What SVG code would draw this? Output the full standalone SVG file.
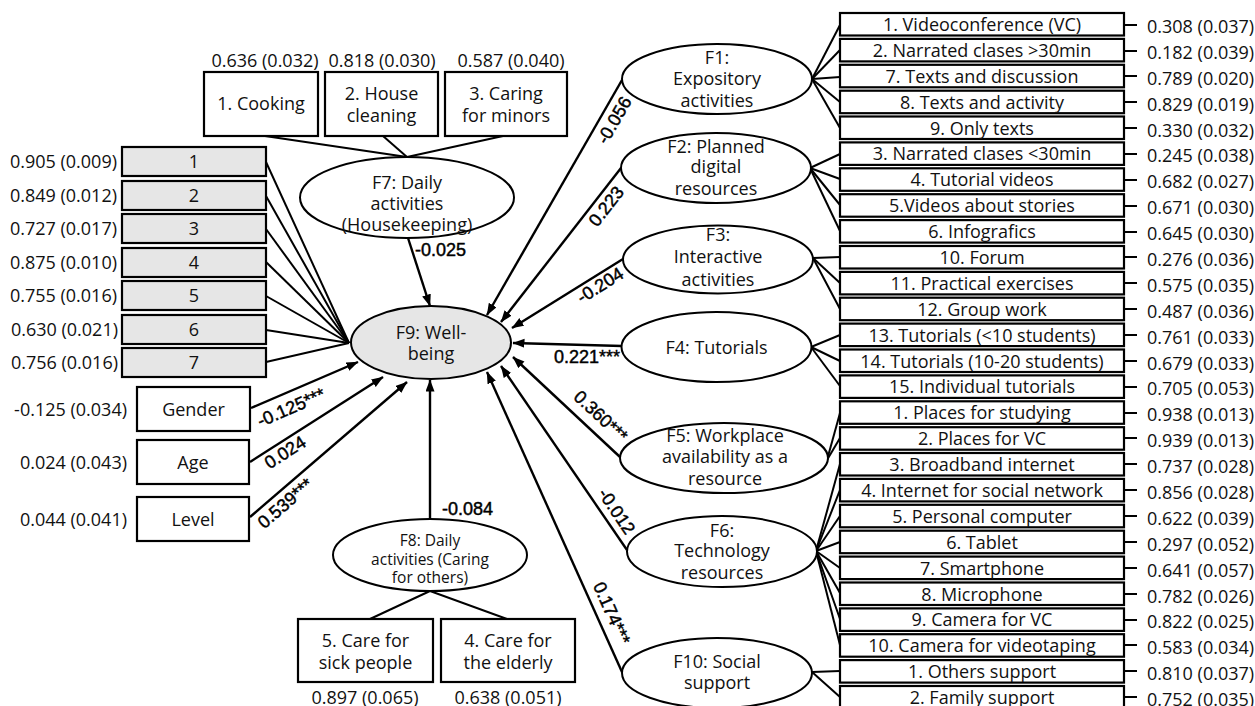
<svg xmlns="http://www.w3.org/2000/svg" width="1255" height="706" viewBox="0 0 1255 706">
<defs>
<marker id="ah" markerUnits="userSpaceOnUse" markerWidth="13" markerHeight="10" refX="11.5" refY="4.5" orient="auto">
<path d="M0,0 L12,4.5 L0,9 z" fill="#000"/>
</marker>
<style>
.t{font-family:"Open Sans","Noto Sans",sans-serif;font-size:18px;fill:#111}
.s{font-family:"Open Sans","Noto Sans",sans-serif;font-size:15.5px;fill:#111}
.m{text-anchor:middle}
.e{text-anchor:end}
.lb{font-family:"Liberation Sans",Arial,sans-serif;font-size:18px;fill:#000;stroke:#000;stroke-width:0.45}
.box{fill:#fff;stroke:#000;stroke-width:2.2}
.gbox{fill:#e6e6e6;stroke:#000;stroke-width:2.2}
.ell{fill:#fff;stroke:#000;stroke-width:2}
.gell{fill:#e6e6e6;stroke:#000;stroke-width:2}
.ln{stroke:#000;stroke-width:2;fill:none}
.ar{stroke:#000;stroke-width:2.4;fill:none;marker-end:url(#ah)}
</style>
</defs>
<rect x="0" y="0" width="1255" height="706" fill="#fff"/>

<g id="connectors">
<!-- F7 indicators -->
<line class="ln" x1="265" y1="136" x2="407" y2="157"/>
<line class="ln" x1="383" y1="136" x2="407" y2="157"/>
<line class="ln" x1="503" y1="136" x2="407" y2="157"/>
<!-- F8 indicators -->
<line class="ln" x1="430" y1="591" x2="370" y2="619"/>
<line class="ln" x1="430" y1="591" x2="507" y2="619"/>
<!-- F9 indicators -->
<line class="ln" x1="266" y1="162" x2="349" y2="343"/>
<line class="ln" x1="266" y1="196" x2="349" y2="343"/>
<line class="ln" x1="266" y1="229" x2="349" y2="343"/>
<line class="ln" x1="266" y1="262" x2="349" y2="343"/>
<line class="ln" x1="266" y1="296" x2="349" y2="343"/>
<line class="ln" x1="266" y1="330" x2="349" y2="343"/>
<line class="ln" x1="266" y1="362" x2="349" y2="343"/>
<!-- F1 indicators -->
<line class="ln" x1="812" y1="79" x2="840" y2="25"/>
<line class="ln" x1="812" y1="79" x2="840" y2="50"/>
<line class="ln" x1="812" y1="79" x2="840" y2="77"/>
<line class="ln" x1="812" y1="79" x2="840" y2="102"/>
<line class="ln" x1="812" y1="79" x2="840" y2="128"/>
<!-- F2 indicators -->
<line class="ln" x1="810" y1="168" x2="840" y2="154"/>
<line class="ln" x1="810" y1="168" x2="840" y2="179"/>
<line class="ln" x1="810" y1="168" x2="840" y2="205"/>
<line class="ln" x1="810" y1="168" x2="840" y2="231"/>
<!-- F3 indicators -->
<line class="ln" x1="813" y1="258" x2="840" y2="257"/>
<line class="ln" x1="813" y1="258" x2="840" y2="283"/>
<line class="ln" x1="813" y1="258" x2="840" y2="309"/>
<!-- F4 indicators -->
<line class="ln" x1="811" y1="347" x2="840" y2="335"/>
<line class="ln" x1="811" y1="347" x2="840" y2="361"/>
<line class="ln" x1="811" y1="347" x2="840" y2="386"/>
<!-- F5 indicators -->
<line class="ln" x1="827" y1="460" x2="840" y2="413"/>
<line class="ln" x1="827" y1="460" x2="840" y2="438"/>
<!-- F6 indicators -->
<line class="ln" x1="816" y1="551" x2="840" y2="464"/>
<line class="ln" x1="816" y1="551" x2="840" y2="490"/>
<line class="ln" x1="816" y1="551" x2="840" y2="516"/>
<line class="ln" x1="816" y1="551" x2="840" y2="542"/>
<line class="ln" x1="816" y1="551" x2="840" y2="568"/>
<line class="ln" x1="816" y1="551" x2="840" y2="593"/>
<line class="ln" x1="816" y1="551" x2="840" y2="619"/>
<line class="ln" x1="816" y1="551" x2="840" y2="645"/>
<!-- F10 indicators -->
<line class="ln" x1="812" y1="672" x2="840" y2="671"/>
<line class="ln" x1="812" y1="672" x2="840" y2="697"/>
<!-- structural paths -->
<line class="ar" x1="622" y1="80" x2="487" y2="315"/>
<line class="ar" x1="621" y1="168" x2="501" y2="322"/>
<line class="ar" x1="623" y1="259" x2="512" y2="328"/>
<line class="ar" x1="622" y1="346" x2="513" y2="343"/>
<line class="ar" x1="620" y1="457" x2="513" y2="357"/>
<line class="ar" x1="627" y1="550" x2="501" y2="366"/>
<line class="ar" x1="622" y1="672" x2="487" y2="372"/>
<line class="ar" x1="251" y1="408" x2="358" y2="362"/>
<line class="ar" x1="250" y1="462" x2="383" y2="377"/>
<line class="ar" x1="250" y1="517" x2="407" y2="382"/>
<line class="ar" x1="408" y1="238" x2="430" y2="306"/>
<line class="ar" x1="430" y1="519" x2="430" y2="380"/>
<!-- right-side ticks -->
<g class="ln">
<line x1="1124" y1="25" x2="1137" y2="25"/>
<line x1="1124" y1="51" x2="1137" y2="51"/>
<line x1="1124" y1="76" x2="1137" y2="76"/>
<line x1="1124" y1="102" x2="1137" y2="102"/>
<line x1="1124" y1="128" x2="1137" y2="128"/>
<line x1="1124" y1="154" x2="1137" y2="154"/>
<line x1="1124" y1="180" x2="1137" y2="180"/>
<line x1="1124" y1="206" x2="1137" y2="206"/>
<line x1="1124" y1="232" x2="1137" y2="232"/>
<line x1="1124" y1="257" x2="1137" y2="257"/>
<line x1="1124" y1="283" x2="1137" y2="283"/>
<line x1="1124" y1="309" x2="1137" y2="309"/>
<line x1="1124" y1="335" x2="1137" y2="335"/>
<line x1="1124" y1="361" x2="1137" y2="361"/>
<line x1="1124" y1="387" x2="1137" y2="387"/>
<line x1="1124" y1="413" x2="1137" y2="413"/>
<line x1="1124" y1="438" x2="1137" y2="438"/>
<line x1="1124" y1="464" x2="1137" y2="464"/>
<line x1="1124" y1="490" x2="1137" y2="490"/>
<line x1="1124" y1="516" x2="1137" y2="516"/>
<line x1="1124" y1="542" x2="1137" y2="542"/>
<line x1="1124" y1="568" x2="1137" y2="568"/>
<line x1="1124" y1="594" x2="1137" y2="594"/>
<line x1="1124" y1="620" x2="1137" y2="620"/>
<line x1="1124" y1="645" x2="1137" y2="645"/>
<line x1="1124" y1="671" x2="1137" y2="671"/>
<line x1="1124" y1="697" x2="1137" y2="697"/>
</g>
<!-- path labels -->
<text class="lb" transform="translate(291,407) rotate(-23.5)" text-anchor="middle" dy="0.36em">-0.125***</text>
<text class="lb" transform="translate(285,452) rotate(-32.6)" text-anchor="middle" dy="0.36em">0.024</text>
<text class="lb" transform="translate(285,503) rotate(-40.7)" text-anchor="middle" dy="0.36em">0.539***</text>
<text class="lb" transform="translate(614,120) rotate(-60)" text-anchor="middle" dy="0.36em">-0.056</text>
<text class="lb" transform="translate(606,206) rotate(-52)" text-anchor="middle" dy="0.36em">0.223</text>
<text class="lb" transform="translate(600,285) rotate(-32)" text-anchor="middle" dy="0.36em">-0.204</text>
<text class="lb" x="620" y="363" text-anchor="end">0.221***</text>
<text class="lb" transform="translate(601,416) rotate(43)" text-anchor="middle" dy="0.36em">0.360***</text>
<text class="lb" transform="translate(617,511) rotate(56)" text-anchor="middle" dy="0.36em">-0.012</text>
<text class="lb" transform="translate(612,613) rotate(66)" text-anchor="middle" dy="0.36em">0.174***</text>
<text class="lb" x="415" y="256">-0.025</text>
<text class="lb" x="442" y="515">-0.084</text>
</g>

<g id="F9">
<ellipse class="gell" cx="431" cy="342.5" rx="80" ry="36.5"/>
<text class="t m" x="431" y="338.5">F9: Well-</text>
<text class="t m" x="431" y="360">being</text>
</g>

<g id="F7">
<ellipse class="ell" cx="407" cy="197.5" rx="107" ry="40.5"/>
<text class="t m" x="407" y="189">F7: Daily</text>
<text class="t m" x="407" y="210">activities</text>
<text class="t m" x="407" y="231">(Housekeeping)</text>
</g>

<g id="F8">
<ellipse class="ell" cx="430" cy="555" rx="97" ry="36"/>
<text class="s m" x="430" y="545.5">F8: Daily</text>
<text class="s m" x="430" y="564.5">activities (Caring</text>
<text class="s m" x="430" y="583">for others)</text>
</g>

<g id="F1">
<ellipse class="ell" cx="717" cy="79" rx="95" ry="35"/>
<text class="t m" x="717" y="63.5">F1:</text>
<text class="t m" x="717" y="85">Expository</text>
<text class="t m" x="717" y="106.5">activities</text>
</g>
<g id="F2">
<ellipse class="ell" cx="716" cy="168" rx="95" ry="35"/>
<text class="t m" x="716" y="152.5">F2: Planned</text>
<text class="t m" x="716" y="173">digital</text>
<text class="t m" x="716" y="195">resources</text>
</g>
<g id="F3">
<ellipse class="ell" cx="718" cy="259.5" rx="95" ry="34"/>
<text class="t m" x="718" y="240.5">F3:</text>
<text class="t m" x="718" y="263">Interactive</text>
<text class="t m" x="718" y="285.5">activities</text>
</g>
<g id="F4">
<ellipse class="ell" cx="716.5" cy="347" rx="95" ry="35"/>
<text class="t m" x="716.5" y="353.5">F4: Tutorials</text>
</g>
<g id="F5">
<ellipse class="ell" cx="724" cy="458" rx="104" ry="35"/>
<text class="t m" x="725" y="441.5">F5: Workplace</text>
<text class="t m" x="725" y="462.5">availability as a</text>
<text class="t m" x="725" y="484.5">resource</text>
</g>
<g id="F6">
<ellipse class="ell" cx="722" cy="551.5" rx="95" ry="35.5"/>
<text class="t m" x="722" y="536.5">F6:</text>
<text class="t m" x="722" y="557">Technology</text>
<text class="t m" x="722" y="579">resources</text>
</g>
<g id="F10">
<ellipse class="ell" cx="717" cy="673" rx="95" ry="35"/>
<text class="t m" x="717" y="668">F10: Social</text>
<text class="t m" x="717" y="689">support</text>
</g>

<!-- top housekeeping indicators -->
<g id="cooking">
<rect class="box" x="204" y="72" width="114" height="64"/>
<text class="t m" x="261" y="110">1. Cooking</text>
<text class="t m" x="265" y="66.5">0.636 (0.032)</text>
</g>
<g id="housecleaning">
<rect class="box" x="325" y="72" width="113" height="64"/>
<text class="t m" x="381.5" y="99.5">2. House</text>
<text class="t m" x="381.5" y="121.5">cleaning</text>
<text class="t m" x="382" y="66.5">0.818 (0.030)</text>
</g>
<g id="caringminors">
<rect class="box" x="445" y="72" width="122" height="64"/>
<text class="t m" x="506" y="99.5">3. Caring</text>
<text class="t m" x="506" y="121.5">for minors</text>
<text class="t m" x="511" y="66.5">0.587 (0.040)</text>
</g>

<!-- care indicators -->
<g id="caresick">
<rect class="box" x="298" y="619" width="135" height="63"/>
<text class="t m" x="365.5" y="646.5">5. Care for</text>
<text class="t m" x="365.5" y="668.5">sick people</text>
<text class="t m" x="365" y="704">0.897 (0.065)</text>
</g>
<g id="careelderly">
<rect class="box" x="441" y="619" width="134" height="63"/>
<text class="t m" x="508" y="646.5">4. Care for</text>
<text class="t m" x="508" y="668.5">the elderly</text>
<text class="t m" x="508" y="704">0.638 (0.051)</text>
</g>

<!-- well-being items -->
<g id="wb1"><rect class="gbox" x="122" y="147" width="144" height="29"/><text class="t m" x="194" y="168">1</text><text class="t e" x="117" y="168">0.905 (0.009)</text></g>
<g id="wb2"><rect class="gbox" x="122" y="181" width="144" height="29"/><text class="t m" x="194" y="202">2</text><text class="t e" x="117" y="202">0.849 (0.012)</text></g>
<g id="wb3"><rect class="gbox" x="122" y="214" width="144" height="29"/><text class="t m" x="194" y="235">3</text><text class="t e" x="117" y="235">0.727 (0.017)</text></g>
<g id="wb4"><rect class="gbox" x="122" y="248" width="144" height="29"/><text class="t m" x="194" y="269">4</text><text class="t e" x="117" y="269">0.875 (0.010)</text></g>
<g id="wb5"><rect class="gbox" x="122" y="281" width="144" height="29"/><text class="t m" x="194" y="302">5</text><text class="t e" x="117" y="302">0.755 (0.016)</text></g>
<g id="wb6"><rect class="gbox" x="122" y="315" width="144" height="29"/><text class="t m" x="194" y="336">6</text><text class="t e" x="118" y="336">0.630 (0.021)</text></g>
<g id="wb7"><rect class="gbox" x="122" y="348" width="144" height="29"/><text class="t m" x="194" y="369">7</text><text class="t e" x="118" y="369">0.756 (0.016)</text></g>

<!-- covariates -->
<g id="gender"><rect class="box" x="137" y="387" width="113" height="44"/><text class="t m" x="193.5" y="415.5">Gender</text><text class="t e" x="127" y="415.5">-0.125 (0.034)</text></g>
<g id="age"><rect class="box" x="137" y="440" width="112" height="44"/><text class="t m" x="193" y="468.5">Age</text><text class="t e" x="127" y="468.5">0.024 (0.043)</text></g>
<g id="level"><rect class="box" x="137" y="497" width="112" height="44"/><text class="t m" x="193" y="525.5">Level</text><text class="t e" x="127" y="525.5">0.044 (0.041)</text></g>

<!-- right indicators -->
<g id="r1"><rect class="box" x="840" y="13" width="284" height="22.5"/><text class="t m" x="982" y="31">1. Videoconference (VC)</text><text class="t" x="1147" y="33">0.308 (0.037)</text></g>
<g id="r2"><rect class="box" x="840" y="38.9" width="284" height="22.5"/><text class="t m" x="982" y="56.9">2. Narrated clases &gt;30min</text><text class="t" x="1147" y="58.9">0.182 (0.039)</text></g>
<g id="r3"><rect class="box" x="840" y="64.8" width="284" height="22.5"/><text class="t m" x="982" y="82.8">7. Texts and discussion</text><text class="t" x="1147" y="84.8">0.789 (0.020)</text></g>
<g id="r4"><rect class="box" x="840" y="90.7" width="284" height="22.5"/><text class="t m" x="982" y="108.7">8. Texts and activity</text><text class="t" x="1147" y="110.7">0.829 (0.019)</text></g>
<g id="r5"><rect class="box" x="840" y="116.5" width="284" height="22.5"/><text class="t m" x="982" y="134.5">9. Only texts</text><text class="t" x="1147" y="136.5">0.330 (0.032)</text></g>
<g id="r6"><rect class="box" x="840" y="142.4" width="284" height="22.5"/><text class="t m" x="982" y="160.4">3. Narrated clases &lt;30min</text><text class="t" x="1147" y="162.4">0.245 (0.038)</text></g>
<g id="r7"><rect class="box" x="840" y="168.3" width="284" height="22.5"/><text class="t m" x="982" y="186.3">4. Tutorial videos</text><text class="t" x="1147" y="188.3">0.682 (0.027)</text></g>
<g id="r8"><rect class="box" x="840" y="194.2" width="284" height="22.5"/><text class="t m" x="982" y="212.2">5.Videos about stories</text><text class="t" x="1147" y="214.2">0.671 (0.030)</text></g>
<g id="r9"><rect class="box" x="840" y="220.1" width="284" height="22.5"/><text class="t m" x="982" y="238.1">6. Infografics</text><text class="t" x="1147" y="240.1">0.645 (0.030)</text></g>
<g id="r10"><rect class="box" x="840" y="246" width="284" height="22.5"/><text class="t m" x="982" y="264">10. Forum</text><text class="t" x="1147" y="266">0.276 (0.036)</text></g>
<g id="r11"><rect class="box" x="840" y="271.9" width="284" height="22.5"/><text class="t m" x="982" y="289.9">11. Practical exercises</text><text class="t" x="1147" y="291.9">0.575 (0.035)</text></g>
<g id="r12"><rect class="box" x="840" y="297.7" width="284" height="22.5"/><text class="t m" x="982" y="315.7">12. Group work</text><text class="t" x="1147" y="317.7">0.487 (0.036)</text></g>
<g id="r13"><rect class="box" x="840" y="323.6" width="284" height="22.5"/><text class="t m" x="982" y="341.6">13. Tutorials (&lt;10 students)</text><text class="t" x="1147" y="343.6">0.761 (0.033)</text></g>
<g id="r14"><rect class="box" x="840" y="349.5" width="284" height="22.5"/><text class="t m" x="982" y="367.5">14. Tutorials (10-20 students)</text><text class="t" x="1147" y="369.5">0.679 (0.033)</text></g>
<g id="r15"><rect class="box" x="840" y="375.4" width="284" height="22.5"/><text class="t m" x="982" y="393.4">15. Individual tutorials</text><text class="t" x="1147" y="395.4">0.705 (0.053)</text></g>
<g id="r16"><rect class="box" x="840" y="401.3" width="284" height="22.5"/><text class="t m" x="982" y="419.3">1. Places for studying</text><text class="t" x="1147" y="421.3">0.938 (0.013)</text></g>
<g id="r17"><rect class="box" x="840" y="427.2" width="284" height="22.5"/><text class="t m" x="982" y="445.2">2. Places for VC</text><text class="t" x="1147" y="447.2">0.939 (0.013)</text></g>
<g id="r18"><rect class="box" x="840" y="453" width="284" height="22.5"/><text class="t m" x="982" y="471">3. Broadband internet</text><text class="t" x="1147" y="473">0.737 (0.028)</text></g>
<g id="r19"><rect class="box" x="840" y="478.9" width="284" height="22.5"/><text class="t m" x="982" y="496.9">4. Internet for social network</text><text class="t" x="1147" y="498.9">0.856 (0.028)</text></g>
<g id="r20"><rect class="box" x="840" y="504.8" width="284" height="22.5"/><text class="t m" x="982" y="522.8">5. Personal computer</text><text class="t" x="1147" y="524.8">0.622 (0.039)</text></g>
<g id="r21"><rect class="box" x="840" y="530.7" width="284" height="22.5"/><text class="t m" x="982" y="548.7">6. Tablet</text><text class="t" x="1147" y="550.7">0.297 (0.052)</text></g>
<g id="r22"><rect class="box" x="840" y="556.6" width="284" height="22.5"/><text class="t m" x="982" y="574.6">7. Smartphone</text><text class="t" x="1147" y="576.6">0.641 (0.057)</text></g>
<g id="r23"><rect class="box" x="840" y="582.5" width="284" height="22.5"/><text class="t m" x="982" y="600.5">8. Microphone</text><text class="t" x="1147" y="602.5">0.782 (0.026)</text></g>
<g id="r24"><rect class="box" x="840" y="608.4" width="284" height="22.5"/><text class="t m" x="982" y="626.4">9. Camera for VC</text><text class="t" x="1147" y="628.4">0.822 (0.025)</text></g>
<g id="r25"><rect class="box" x="840" y="634.2" width="284" height="22.5"/><text class="t m" x="982" y="652.2">10. Camera for videotaping</text><text class="t" x="1147" y="654.2">0.583 (0.034)</text></g>
<g id="r26"><rect class="box" x="840" y="660.1" width="284" height="22.5"/><text class="t m" x="982" y="678.1">1. Others support</text><text class="t" x="1147" y="680.1">0.810 (0.037)</text></g>
<g id="r27"><rect class="box" x="840" y="686" width="284" height="22.5"/><text class="t m" x="982" y="704">2. Family support</text><text class="t" x="1147" y="706">0.752 (0.035)</text></g>
</svg>
